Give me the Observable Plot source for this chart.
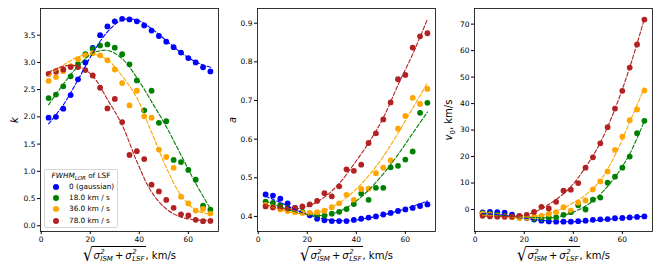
<!DOCTYPE html>
<html><head><meta charset="utf-8">
<script src="https://cdn.jsdelivr.net/npm/d3@7"></script>
<script src="https://cdn.jsdelivr.net/npm/@observablehq/plot@0.6"></script>
<style>
body{margin:0;background:#fff;font-family:"DejaVu Sans",sans-serif;color:#000}
#wrap{position:relative;width:660px;height:275px;overflow:hidden;background:#fff}
.panel{position:absolute;top:0}
.xl{position:absolute;top:246px;transform:translateX(-50%);font-size:10px;white-space:nowrap;display:flex;align-items:flex-end;line-height:1}
.sq{font-size:18px;line-height:18px;margin-right:-1px;transform:scaleX(0.85)}
.ov{border-top:0.8px solid #000;display:inline-flex;align-items:center;padding:2px 1px 0 1px;margin-bottom:1px}
.ss{display:inline-flex;flex-direction:column;font-size:7px;line-height:7px;margin-left:0.5px;font-style:italic}
.plus{margin:0 2px}
.yl{position:absolute;font-size:10px;white-space:nowrap;transform:translate(-50%,-50%) rotate(-90deg)}
.leg{position:absolute;left:44px;top:169px;width:72px;height:57px;border:1px solid #d6d6d6;border-radius:2px;background:rgba(255,255,255,0.85);font-size:7.3px}
.leg .t{position:absolute;left:0;right:0;top:1px;text-align:center;white-space:nowrap}
.leg .r{position:absolute;left:24px;white-space:nowrap;line-height:8px}
.leg .m{position:absolute;left:8px;width:6px;height:6px;border-radius:50%}
</style></head>
<body><div id="wrap"></div>
<script>
// x positions of the samples (km/s)
const xs = [3,6,9,12,15,18,21,24,27,30,33,36,39,42,45,48,51,54,57,60,63,66,69];
const fitX = [3,9,15,21,27,33,39,45,51,57,63,69];
const seriesNames = ["0 (gaussian)","18.0 km / s","36.0 km / s","78.0 km / s"];
const seriesColors = ["blue","green","orange","firebrick"];

// panel 1: k
const k_0  = [1.985,2.00,2.15,2.40,2.69,3.00,3.265,3.50,3.66,3.755,3.80,3.79,3.755,3.68,3.585,3.485,3.38,3.28,3.18,3.08,3.00,2.91,2.835];
const k_18 = [2.345,2.41,2.56,2.745,2.97,3.15,3.25,3.31,3.33,3.27,3.15,2.965,2.67,2.12,2.48,1.89,1.92,1.21,1.17,1.025,0.845,0.37,0.295];
const k_36 = [2.66,2.73,2.84,2.93,3.06,3.13,3.17,3.13,3.04,2.87,2.62,2.21,2.48,2.01,1.985,1.40,1.265,1.065,0.535,0.41,0.28,0.31,0.225];
const k_78 = [2.79,2.83,2.87,2.915,2.915,2.86,2.76,2.535,2.155,2.33,1.905,1.30,1.37,1.225,0.755,0.63,0.475,0.33,0.21,0.19,0.11,0.085,0.09];
const kFit_0  = [1.87,2.22,2.68,3.17,3.56,3.78,3.78,3.62,3.40,3.18,3.01,2.91];
const kFit_18 = [2.22,2.60,2.93,3.17,3.22,3.07,2.72,2.28,1.82,1.30,0.78,0.31];
const kFit_36 = [2.75,2.95,3.10,3.15,3.05,2.75,2.35,1.72,1.07,0.56,0.29,0.21];
const kFit_78 = [2.82,2.93,2.93,2.75,2.32,1.85,1.18,0.62,0.31,0.16,0.11,0.10];
const kTicks = [0,0.5,1,1.5,2,2.5,3,3.5];

// panel 2: a
const a_0  = [0.457,0.454,0.446,0.434,0.422,0.411,0.403,0.394,0.39,0.388,0.388,0.388,0.391,0.394,0.397,0.40,0.405,0.409,0.414,0.418,0.422,0.427,0.431];
const a_18 = [0.438,0.435,0.429,0.422,0.416,0.412,0.408,0.402,0.402,0.407,0.412,0.419,0.432,0.459,0.443,0.474,0.474,0.527,0.531,0.547,0.568,0.668,0.694];
const a_36 = [0.43,0.424,0.418,0.414,0.411,0.409,0.409,0.411,0.415,0.424,0.434,0.456,0.443,0.471,0.472,0.512,0.526,0.545,0.627,0.66,0.707,0.691,0.73];
const a_78 = [0.426,0.423,0.423,0.42,0.422,0.426,0.431,0.44,0.46,0.452,0.478,0.522,0.518,0.534,0.59,0.615,0.651,0.695,0.755,0.766,0.837,0.866,0.874];
const aFit_0  = [0.452,0.436,0.418,0.403,0.393,0.389,0.390,0.396,0.404,0.414,0.426,0.440];
const aFit_18 = [0.44,0.425,0.412,0.404,0.403,0.413,0.435,0.468,0.51,0.56,0.615,0.67];
const aFit_36 = [0.43,0.418,0.409,0.407,0.415,0.435,0.465,0.505,0.555,0.615,0.68,0.745];
const aFit_78 = [0.43,0.421,0.419,0.428,0.45,0.485,0.535,0.59,0.655,0.74,0.82,0.91];
const aTicks = [0.4,0.5,0.6,0.7,0.8,0.9];

// panel 3: v0
const v_0  = [-1.1,-0.9,-1.0,-1.2,-1.9,-2.6,-3.1,-3.8,-4.2,-4.5,-4.6,-4.6,-4.6,-4.4,-4.2,-3.9,-3.7,-3.6,-3.3,-3.2,-3.0,-2.8,-2.6];
const v_18 = [-1.4,-1.7,-2.0,-2.4,-2.7,-3.1,-3.1,-3.5,-3.5,-3.1,-3.0,-2.0,-1.0,1.6,0.0,3.7,4.5,10.1,12.4,15.8,20.0,28.8,33.5];
const v_36 = [-1.7,-2.0,-2.4,-2.7,-2.9,-3.1,-3.1,-2.7,-2.4,-1.7,-1.0,0.9,-0.4,2.6,3.4,7.6,10.6,14.4,22.5,27.5,33.7,37.8,44.9];
const v_78 = [-2.4,-2.6,-2.7,-2.7,-2.7,-2.4,-2.0,-0.9,1.0,0.4,2.9,7.1,7.5,10.0,15.8,19.7,25.0,31.1,38.1,44.8,53.6,62.3,71.7];
const vFit_0  = [-1.5,-1.9,-2.6,-3.4,-4.1,-4.5,-4.6,-4.4,-4.0,-3.5,-3.0,-2.5];
const vFit_18 = [-2.0,-2.3,-2.6,-2.9,-3.1,-2.9,-1.3,1.3,5.8,12.2,21.0,33.5];
const vFit_36 = [-2.2,-2.5,-2.8,-2.8,-2.2,-0.5,2.0,5.5,11.0,20.5,33.0,46.0];
const vFit_78 = [-2.5,-2.6,-2.6,-2.0,0.3,3.8,8.6,16.0,25.2,38.0,53.6,72.1];
const vTicks = [0,10,20,30,40,50,60,70];

const xTicks = [0,20,40,60];

function rows(xArr, lists){
  const out = [];
  lists.forEach((ys,i)=> ys.forEach((y,j)=> out.push({x:xArr[j], y, s:seriesNames[i]})));
  return out;
}

const wrap = document.getElementById("wrap");

function panel(left, pts, fits, yDomain, yTicks, fmt){
  const chart = Plot.plot({
    width: 220, height: 275,
    marginLeft: 40, marginRight: 2, marginTop: 8, marginBottom: 44,
    style: {fontFamily: "DejaVu Sans", fontSize: "7.5px", background: "transparent", color: "#000", overflow: "visible"},
    x: {domain: [-0.3, 72.3], ticks: xTicks, label: null, tickSize: 3, tickPadding: 2},
    y: {domain: yDomain, ticks: yTicks, tickFormat: fmt, label: null, tickSize: 3, tickPadding: 2},
    color: {domain: seriesNames, range: seriesColors},
    marks: [
      Plot.dot(rows(xs, pts), {x: "x", y: "y", fill: "s", r: 2.9, stroke: null}),
      Plot.line(rows(fitX, fits), {x: "x", y: "y", z: "s", stroke: "s", strokeWidth: 1.1, strokeDasharray: "4,2", curve: "catmull-rom"}),
      Plot.frame({stroke: "#000", strokeWidth: 0.8})
    ]
  });
  chart.classList.add("panel");
  chart.style.left = left + "px";
  wrap.appendChild(chart);
}

panel(0, [k_0,k_18,k_36,k_78], [kFit_0,kFit_18,kFit_36,kFit_78], [-0.105, 3.99], kTicks, d3.format(".1f"));
panel(217, [a_0,a_18,a_36,a_78], [aFit_0,aFit_18,aFit_36,aFit_78], [0.361, 0.938], aTicks, d3.format(".1f"));
panel(434, [v_0,v_18,v_36,v_78], [vFit_0,vFit_18,vFit_36,vFit_78], [-8.3, 75.9], vTicks, d3.format("d"));

// x-axis labels
const xlHTML = '<span class="sq">√</span><span class="ov"><i>σ</i><span class="ss"><span>2</span><span>ISM</span></span><span class="plus">+</span><i>σ</i><span class="ss"><span>2</span><span>LSF</span></span></span><span style="margin-bottom:3px">, km/s</span>';
[129, 346, 563].forEach(cx => {
  const d = document.createElement("div");
  d.className = "xl"; d.style.left = cx + "px"; d.innerHTML = xlHTML;
  wrap.appendChild(d);
});

// y-axis labels
function ylab(x, y, html){
  const d = document.createElement("div");
  d.className = "yl"; d.style.left = x + "px"; d.style.top = y + "px"; d.innerHTML = html;
  wrap.appendChild(d);
}
ylab(14, 120, "<i>k</i>");
ylab(232, 120, "<i>a</i>");
ylab(450, 120, "<i>v</i><sub style='font-size:7px'>0</sub>, km/s");

// legend
const leg = document.createElement("div");
leg.className = "leg";
let lh = '<div class="t"><i>FWHM</i><sub style="font-size:5.5px"><i>LOR</i></sub> of LSF</div>';
const rowY = [17.5, 28.7, 39.9, 51];
seriesNames.forEach((n,i)=>{
  lh += `<div class="m" style="top:${rowY[i]-3.5}px;background:${seriesColors[i]}"></div>`;
  lh += `<div class="r" style="top:${rowY[i]-4.5}px">${n}</div>`;
});
leg.innerHTML = lh;
wrap.appendChild(leg);
</script>
</body></html>
